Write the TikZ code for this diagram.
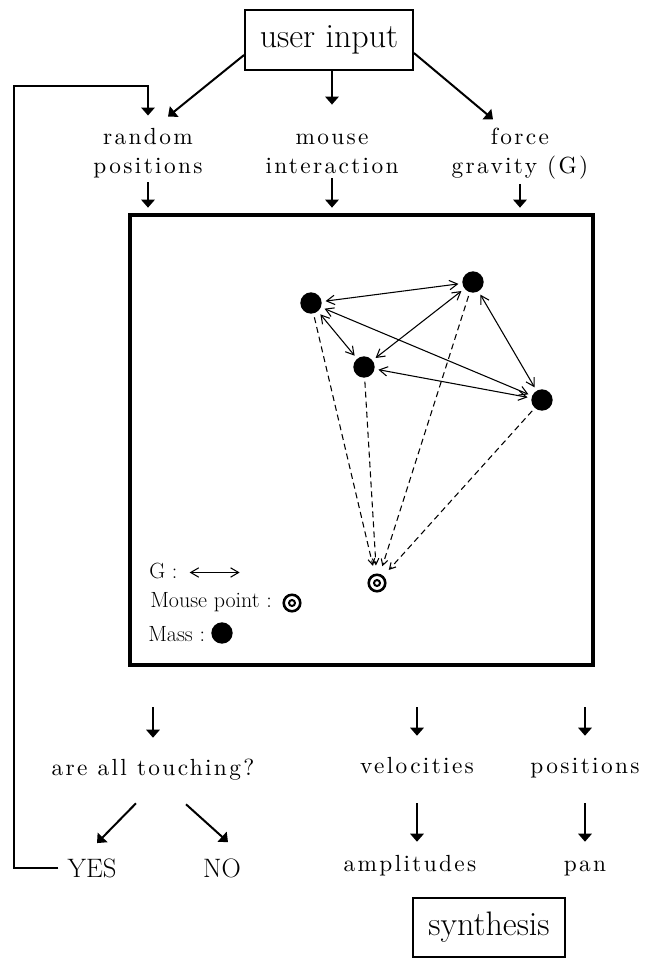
\documentclass[tikz,border=0pt]{standalone}
\usepackage{fontspec}
\usepackage{tikz}
\usetikzlibrary{arrows.meta, positioning, calc}

\newfontfamily\spacedfont{lmroman10-regular.otf}[LetterSpace=10]

\tikzset{
  flow/.style={line width=1.5pt, -{Triangle[length=6pt,width=10pt]}},
  grav/.style={line width=0.8pt, {Straight Barb[length=6pt,width=7pt]}-{Straight Barb[length=6pt,width=7pt]}},
  pull/.style={line width=0.8pt, dash pattern=on 4.5pt off 3pt, -{Straight Barb[length=4.5pt,width=5pt]}, shorten >=6pt},
  mass/.style={circle, fill=black, minimum size=16pt, inner sep=0pt, outer sep=3pt},
  mouse/.style={circle, draw, line width=1.9pt, minimum size=12.4pt, inner sep=0pt,
    path picture={\draw[line width=1.5pt] (path picture bounding box.center) circle (2.25pt);}},
  tag/.style={font=\spacedfont\fontsize{17.5}{21.75}\selectfont, inner sep=1.5pt, anchor=base, align=center},
  tagone/.style={tag, text height=11.25pt, text depth=3pt},
  answer/.style={font=\fontsize{20}{24}\selectfont, inner sep=1.5pt, anchor=base},
  bigbox/.style={draw, line width=1.4pt, font=\fontsize{25.5}{30}\selectfont, minimum width=126pt, minimum height=45pt, inner sep=0pt},
  key/.style={font=\fontsize{16.5}{20}\selectfont, inner sep=0pt, anchor=base west},
}

\begin{document}
\begin{tikzpicture}[x=0.75pt, y=-0.75pt]
    \useasboundingbox (0,0) rectangle (644,958);

    % inputs
    \node[bigbox] (ui) at (329,40) {user input};
    \node[tag] (rp) at (148,173) {random\\positions};
    \node[tag] (mi) at (332,173) {mouse\\interaction};
    \node[tag] (fg) at (520,173) {force\\gravity (G)};

    % the field
    \node[draw, line width=3pt, minimum width=347.25pt, minimum height=337.5pt, inner sep=0pt] (field) at (361.5,440) {};
    \node[mass] (ma) at (311,303) {};
    \node[mass] (mb) at (473,282) {};
    \node[mass] (mc) at (364,367) {};
    \node[mass] (md) at (542,400) {};
    \node[mouse] (mp) at (377,583) {};

    % legend
    \node[key] (kg) at (149,578) {G :};
    \node[key] (km) at (150,607) {Mouse point :};
    \node[mouse] (kmp) at (292,603) {};
    \node[key] (ks) at (148,641) {Mass :};
    \node[mass, outer sep=0pt] (kms) at (222,633) {};
    \draw[grav] ($(kg.east)+(12,2)$) -- ++(50,0);

    % outputs
    \node[tagone] (att) at (153,775) {are all touching?};
    \node[tagone] (vel) at (417,773) {velocities};
    \node[tagone] (pos) at (585,773) {positions};
    \node[tagone] (amp) at (410,871) {amplitudes};
    \node[tagone] (pan) at (585,871) {pan};
    \node[answer] (yes) at (92,877) {YES};
    \node[answer] (no) at (222,877) {NO};
    \node[bigbox, minimum width=114pt, minimum height=44.25pt] (syn) at (489,927.5) {synthesis};

    \draw[flow] ($(ui.west)+(0,15)$) -- ($(rp.north)+(20,-9)$);
    \draw[flow, shorten >=20pt] (mi.north |- ui.south) -- (mi.north);
    \draw[flow] ($(ui.east)+(0,13)$) -- ($(fg.north)+(-27,-6)$);
    \foreach \n in {rp,mi,fg}
        \draw[flow, shorten <=2pt, shorten >=4pt] (\n.south) -- (\n.south |- field.north);

    % gravity between masses
    \draw[grav] (ma) -- (mb);
    \draw[grav] (ma) -- (mc);
    \draw[grav] (ma) -- (md);
    \draw[grav] (mc) -- (mb);
    \draw[grav] (mc) -- (md);
    \draw[grav] (mb) -- (md);
    % pull to the mouse point
    \foreach \m in {ma,mb,mc,md}
        \draw[pull] (\m) -- (mp);

    \foreach \n in {att,vel,pos}
        \draw[flow, shorten <=30pt, shorten >=15pt] (field.south -| \n.north) -- (\n.north);
    \draw[flow, shorten <=18pt, shorten >=9pt] (vel.south) -- (vel.south |- amp.north);
    \draw[flow, shorten <=18pt, shorten >=9pt] (pos.south) -- (pos.south |- pan.north);
    \draw[flow] ($(att.south)+(-17,22)$) -- ($(yes.north)+(5,-13)$);
    \draw[flow] ($(att.south)+(33,23)$) -- ($(no.north)+(6,-14)$);
    % back to random positions
    \draw[flow] ($(yes.west)+(-7,0)$) -- ++(-44,0) |- ($(rp.north)+(0,-40)$) -- ($(rp.north)+(0,-10)$);
\end{tikzpicture}
\end{document}
